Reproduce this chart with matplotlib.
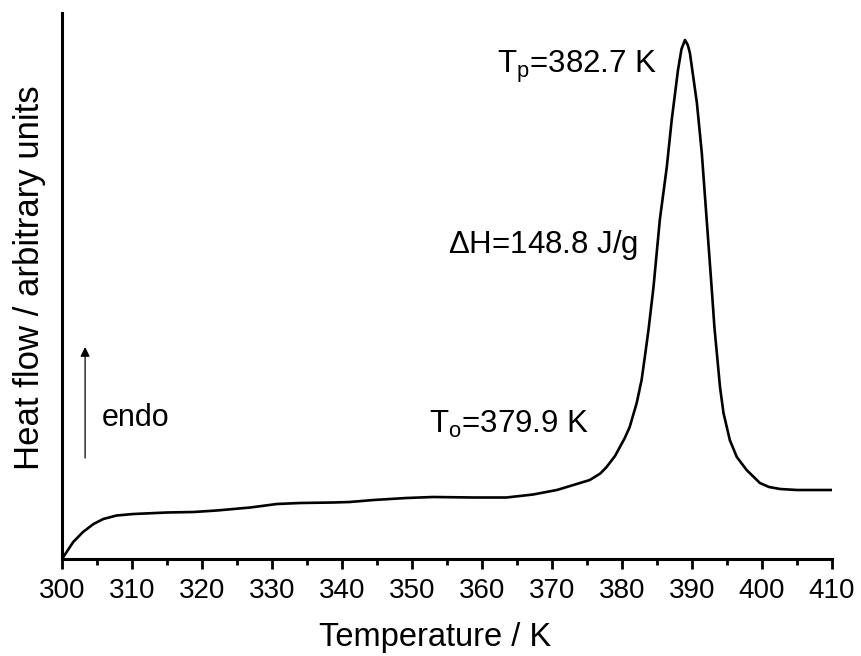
import matplotlib
matplotlib.use("Agg")
import matplotlib.pyplot as plt

plt.rcParams['font.family'] = ['Liberation Sans', 'DejaVu Sans']
plt.rcParams['mathtext.fontset'] = 'custom'
plt.rcParams['mathtext.rm'] = 'Liberation Sans'
plt.rcParams['mathtext.it'] = 'Liberation Sans'

temperature = [300, 301.6, 303.0, 304.5, 305.9, 307.8, 310.2, 315.0, 318.8, 322.1,
               326.9, 330.7, 334.0, 338.7, 341.1, 344.5, 349.2, 353.0, 358.8, 363.5,
               367.3, 370.7, 374.0, 375.4, 376.9, 377.8, 379.0, 379.7, 380.4, 381.1,
               382.1, 382.8, 383.3, 383.8, 384.5, 385.4, 386.4, 387.1, 388.0, 388.5,
               389.0, 389.4, 389.7, 390.7, 391.4, 392.1, 392.8, 393.2, 393.6, 394.0,
               394.5, 395.4, 396.4, 397.8, 399.7, 401.0, 402.6, 405.0, 410.0]
heat_flow = [0, 17, 27, 35, 40, 43.5, 45, 46.5, 47, 48.5,
             51.5, 55, 56, 56.5, 57, 59, 61, 62, 61.5, 61.5,
             64.5, 69, 76, 79, 85.5, 92, 103, 112, 121, 132,
             156, 179, 204, 230, 272, 339, 392, 439, 489, 510,
             519, 514, 506, 456, 406, 339, 272, 232, 202, 172,
             146, 119, 102, 89, 76, 72, 70, 69, 69]

xticks = list(range(300, 411, 10))

fig = plt.figure(figsize=(8.61, 6.56), dpi=100)
ax = fig.add_axes([62/861, 1 - 559/656, (832-62)/861, (559-13)/656])

ax.plot(temperature, heat_flow, color='black', lw=1.9,
        solid_joinstyle='round', solid_capstyle='round')

ax.set_xlim(300, 410)
ax.set_ylim(0, 546)
ax.set_xticks(xticks)
ax.set_xticks(list(range(305, 410, 10)), minor=True)
ax.set_yticks([])
ax.spines['top'].set_visible(False)
ax.spines['right'].set_visible(False)
ax.spines['left'].set_linewidth(2.2)
ax.spines['bottom'].set_linewidth(2.2)
ax.tick_params(axis='x', which='major', direction='out', length=7.5, width=2.0,
               labelsize=20, pad=6)
ax.tick_params(axis='x', which='minor', direction='out', length=4, width=2.0)

ax.set_xlabel('Temperature / K', fontsize=23.5, va='baseline')
ax.xaxis.set_label_coords(0.484, -0.159)
ax.set_ylabel('Heat flow / arbitrary units', fontsize=25, va='center')
ax.yaxis.set_label_coords(-0.0416, 0.515)

ax.text(305.7, 141, 'endo', fontsize=22, ha='left', va='center')
ax.annotate('', xy=(303.3, 212), xytext=(303.3, 101),
            arrowprops=dict(arrowstyle='-|>', color='black', lw=0.9,
                            mutation_scale=14, shrinkA=0, shrinkB=0))

ax.text(362.1, 486, r'$\mathregular{T_p}$=382.7 K', fontsize=22.5, ha='left', va='baseline')
ax.text(355.2, 306, r'$\mathregular{\Delta H}$=148.8 J/g', fontsize=22.5, ha='left', va='baseline')
ax.text(352.4, 126, r'$\mathregular{T_o}$=379.9 K', fontsize=22.5, ha='left', va='baseline')

fig.savefig('out.png', dpi=100)
